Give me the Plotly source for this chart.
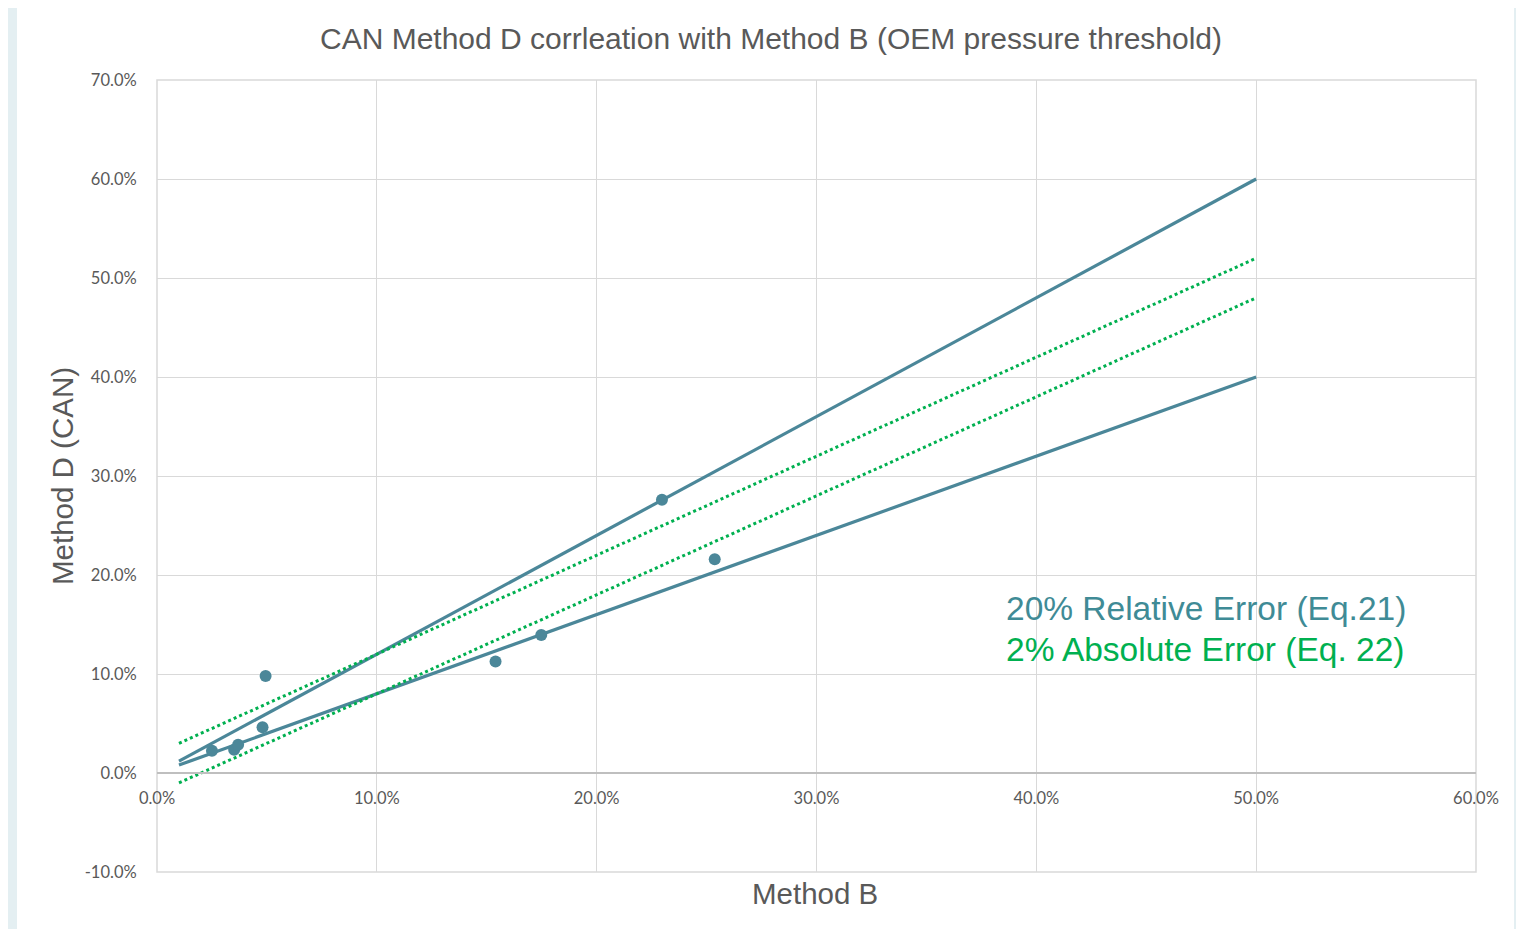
import plotly.graph_objects as go

# Measured data (fractions)
method_b = [0.0250, 0.0351, 0.0369, 0.0480, 0.0494, 0.154, 0.1748, 0.2297, 0.2537]
method_d = [0.0225, 0.0235, 0.0285, 0.0462, 0.0980, 0.1126, 0.1393, 0.2760, 0.2160]

# Error-band end points
band_x = [0.01, 0.50]
rel_upper = [0.012, 0.60]
rel_lower = [0.008, 0.40]
abs_upper = [0.03, 0.52]
abs_lower = [-0.01, 0.48]

x_ticks = [0.0, 0.1, 0.2, 0.3, 0.4, 0.5, 0.6]
x_labels = ["0.0%", "10.0%", "20.0%", "30.0%", "40.0%", "50.0%", "60.0%"]
y_ticks = [-0.1, 0.0, 0.1, 0.2, 0.3, 0.4, 0.5, 0.6, 0.7]
y_labels = ["-10.0%", "0.0%", "10.0%", "20.0%", "30.0%", "40.0%", "50.0%", "60.0%", "70.0%"]

teal = "#4b8799"
green = "#00b050"

fig = go.Figure()
for yv in (rel_upper, rel_lower):
    fig.add_trace(go.Scatter(x=band_x, y=yv, mode="lines",
                             line=dict(color=teal, width=3.2), showlegend=False))
for yv in (abs_upper, abs_lower):
    fig.add_trace(go.Scatter(x=band_x, y=yv, mode="lines",
                             line=dict(color=green, width=3, dash="dot"), showlegend=False))
fig.add_trace(go.Scatter(x=method_b, y=method_d, mode="markers",
                         marker=dict(color=teal, size=12), showlegend=False))

OFF = 8  # page body margin
W, H = 1524 - OFF, 929 - OFF
ml, mt = 157 - OFF, 80 - OFF
pw, ph = 1476 - 157, 872 - 80
mr, mb = W - ml - pw, H - mt - ph

def px(x):
    return (x - OFF - ml) / pw

def py(y):
    return (OFF + mt + ph - y) / ph

title_font = "Liberation Sans, Arial, sans-serif"

fig.update_layout(
    width=W, height=H,
    margin=dict(l=ml, r=mr, t=mt, b=mb, pad=0),
    paper_bgcolor="#e4eff2",
    plot_bgcolor="rgba(0,0,0,0)",
    font=dict(family="Lato, Liberation Sans, sans-serif", color="#595959"),
    xaxis=dict(range=[0, 0.6], tickvals=x_ticks, ticktext=x_labels,
               showgrid=True, gridcolor="#d9d9d9", gridwidth=1.3,
               zeroline=False, anchor="free", position=0.125,
               showline=True, linecolor="#bfbfbf", linewidth=1.5,
               ticks="outside", ticklen=10, tickcolor="rgba(0,0,0,0)",
               tickfont=dict(size=16.5, color="#595959")),
    yaxis=dict(range=[-0.1, 0.7], tickvals=y_ticks, ticktext=y_labels,
               showgrid=True, gridcolor="#d9d9d9", gridwidth=1.3,
               zeroline=False, showline=False,
               ticks="outside", ticklen=16, tickcolor="rgba(0,0,0,0)",
               tickfont=dict(size=16.5, color="#595959")),
    shapes=[
        dict(type="rect", xref="paper", yref="paper", layer="below",
             x0=px(17), x1=px(1514), y0=py(929) - 0.01, y1=py(OFF) + 0.01,
             fillcolor="white", line=dict(width=0)),
        dict(type="rect", xref="paper", yref="paper", layer="below",
             x0=0, x1=1, y0=0, y1=1,
             fillcolor="rgba(0,0,0,0)", line=dict(color="#d9d9d9", width=1.5)),
    ],
    annotations=[
        dict(text="CAN Method D corrleation with Method B (OEM pressure threshold)",
             xref="paper", yref="paper", x=px(771), y=py(38),
             xanchor="center", yanchor="middle", showarrow=False,
             font=dict(family=title_font, size=30, color="#595959")),
        dict(text="Method D (CAN)", xref="paper", yref="paper", x=px(62), y=py(476),
             xanchor="center", yanchor="middle", textangle=-90, showarrow=False,
             font=dict(family=title_font, size=29.5, color="#595959")),
        dict(text="Method B", xref="paper", yref="paper", x=px(815), y=py(893),
             xanchor="center", yanchor="middle", showarrow=False,
             font=dict(family=title_font, size=29.5, color="#595959")),
        dict(text="20% Relative Error (Eq.21)", xref="paper", yref="paper",
             x=px(1004), y=py(608), xanchor="left", yanchor="middle", showarrow=False,
             font=dict(family=title_font, size=33.5, color="#3f8b96")),
        dict(text="2% Absolute Error (Eq. 22)", xref="paper", yref="paper",
             x=px(1004), y=py(649), xanchor="left", yanchor="middle", showarrow=False,
             font=dict(family=title_font, size=33.5, color=green)),
    ],
)

fig.write_html("out.html")
